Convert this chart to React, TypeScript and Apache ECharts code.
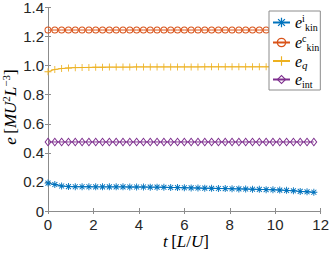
import React, { useEffect, useRef } from "react";
import * as echarts from "echarts";

// time samples t [L/U]
const times = [
  0, 0.3, 0.6, 0.9, 1.2, 1.5, 1.8, 2.1, 2.4, 2.7,
  3.0, 3.3, 3.6, 3.9, 4.2, 4.5, 4.8, 5.1, 5.4, 5.7,
  6.0, 6.3, 6.6, 6.9, 7.2, 7.5, 7.8, 8.1, 8.4, 8.7,
  9.0, 9.3, 9.6, 9.9, 10.2, 10.5, 10.8, 11.1, 11.4, 11.7,
];

const eKinI = [
  0.192, 0.182, 0.172, 0.168, 0.167, 0.167, 0.167, 0.166, 0.166, 0.166,
  0.166, 0.166, 0.165, 0.165, 0.165, 0.164, 0.164, 0.163, 0.162, 0.161,
  0.160, 0.159, 0.158, 0.157, 0.156, 0.155, 0.154, 0.153, 0.152, 0.151,
  0.150, 0.149, 0.147, 0.146, 0.144, 0.142, 0.139, 0.135, 0.132, 0.129,
];

const eKinC = [
  1.245, 1.245, 1.245, 1.245, 1.245, 1.245, 1.245, 1.245, 1.245, 1.245,
  1.245, 1.245, 1.245, 1.245, 1.245, 1.245, 1.245, 1.245, 1.245, 1.245,
  1.245, 1.245, 1.245, 1.245, 1.245, 1.245, 1.245, 1.245, 1.245, 1.245,
  1.245, 1.245, 1.245, 1.245, 1.245, 1.245, 1.245, 1.245, 1.245, 1.245,
];

const eQ = [
  0.958, 0.974, 0.980, 0.984, 0.986, 0.987, 0.988, 0.989, 0.989, 0.990,
  0.990, 0.990, 0.990, 0.991, 0.991, 0.991, 0.991, 0.991, 0.991, 0.991,
  0.991, 0.991, 0.991, 0.992, 0.992, 0.992, 0.992, 0.992, 0.992, 0.992,
  0.992, 0.992, 0.992, 0.992, 0.992, 0.992, 0.992, 0.992, 0.992, 0.992,
];

const eInt = [
  0.475, 0.475, 0.475, 0.475, 0.475, 0.475, 0.475, 0.475, 0.475, 0.475,
  0.475, 0.475, 0.475, 0.475, 0.475, 0.475, 0.475, 0.475, 0.475, 0.475,
  0.475, 0.475, 0.475, 0.475, 0.475, 0.475, 0.475, 0.475, 0.475, 0.475,
  0.475, 0.475, 0.475, 0.475, 0.475, 0.475, 0.475, 0.475, 0.475, 0.475,
];

const seriesNames = ["ekin_i", "ekin_c", "eq", "eint"];
const legendLabels: Record<string, string> = {
  ekin_i: "{e|e}{sup|i}{sub|kin}",
  ekin_c: "{e|e}{sup|c}{sub|kin}",
  eq: "{e|e}{subi|q}",
  eint: "{e|e}{sub|int}",
};

const colors = ["#0072BD", "#D95319", "#EDB120", "#7E2F8E"];

const SYM_STAR =
  "path://M8.7 0 H11.3 V20 H8.7 Z M0 8.7 H20 V11.3 H0 Z M3.82 1.98 L18.02 16.18 L16.18 18.02 L1.98 3.82 Z M16.18 1.98 L18.02 3.82 L3.82 18.02 L1.98 16.18 Z";
const SYM_CIRCLE =
  "path://M10 0 A10 10 0 1 1 10 20 A10 10 0 1 1 10 0 Z M10 2.8 A7.2 7.2 0 1 0 10 17.2 A7.2 7.2 0 1 0 10 2.8 Z";
const SYM_PLUS = "path://M8.8 0 H11.2 V20 H8.8 Z M0 8.8 H20 V11.2 H0 Z";
const SYM_DIAMOND =
  "path://M10 0 L20 10 L10 20 L0 10 Z M10 3.2 L3.6 10 L10 16.8 L16.4 10 Z";

const SERIF = "Liberation Serif";
const SANS = "Liberation Sans";

export default function App() {
  const ref = useRef<HTMLDivElement>(null);
  useEffect(() => {
    if (!ref.current) return;
    const chart = echarts.init(ref.current, null, { renderer: "svg" });
    const valueSets = [eKinI, eKinC, eQ, eInt];
    const symbols = [SYM_STAR, SYM_CIRCLE, SYM_PLUS, SYM_DIAMOND];
    const sizes: any[] = [7, 7, 7, [7, 9]];
    const axisColor = "#8c8c8c";
    const labelStyle = { fontFamily: SANS, fontSize: 15, color: "#262626" };
    const tickStyle = { show: true, inside: true, length: 3, lineStyle: { color: axisColor, width: 1 } };

    chart.setOption({
      animation: false,
      backgroundColor: "#ffffff",
      grid: { left: 48, right: 8, top: 5, bottom: 43, containLabel: false },
      xAxis: [
        {
          type: "value", min: 0, max: 12, interval: 2,
          axisLine: { show: true, lineStyle: { color: axisColor, width: 1 } },
          axisTick: tickStyle,
          splitLine: { show: false },
          axisLabel: { ...labelStyle, margin: 6 },
        },
        {
          type: "value", position: "top", min: 0, max: 12, interval: 2,
          axisLine: { show: true, lineStyle: { color: axisColor, width: 1 } },
          axisTick: tickStyle,
          splitLine: { show: false },
          axisLabel: { show: false },
        },
      ],
      yAxis: [
        {
          type: "value", min: 0, max: 1.4, interval: 0.2,
          axisLine: { show: true, lineStyle: { color: axisColor, width: 1 } },
          axisTick: tickStyle,
          splitLine: { show: false },
          axisLabel: {
            ...labelStyle, margin: 4,
            formatter: (v: number) => (v === 0 ? "0" : v.toFixed(1)),
          },
        },
        {
          type: "value", position: "right", min: 0, max: 1.4, interval: 0.2,
          axisLine: { show: true, lineStyle: { color: axisColor, width: 1 } },
          axisTick: tickStyle,
          splitLine: { show: false },
          axisLabel: { show: false },
        },
      ],
      legend: {
        orient: "vertical",
        left: 269,
        top: 11,
        padding: [2, 1, 1, 3],
        itemGap: 1,
        itemWidth: 17,
        itemHeight: 12,
        backgroundColor: "#ffffff",
        borderColor: "#8c8c8c",
        borderWidth: 1,
        borderRadius: 0,
        data: seriesNames,
        formatter: (name: string) => legendLabels[name],
        textStyle: {
          color: "#000",
          rich: {
            e: { fontFamily: SERIF, fontStyle: "italic", fontSize: 16, lineHeight: 19, color: "#000" },
            sup: { fontFamily: SERIF, fontSize: 10, lineHeight: 9, verticalAlign: "top", color: "#000" },
            sub: { fontFamily: SERIF, fontSize: 10, lineHeight: 9, verticalAlign: "bottom", color: "#000" },
            subi: { fontFamily: SERIF, fontStyle: "italic", fontSize: 11, lineHeight: 9, verticalAlign: "bottom", color: "#000" },
          },
        },
      },
      graphic: [
        {
          type: "text",
          x: 10,
          y: 107,
          rotation: Math.PI / 2,
          style: {
            text: "{i|e} {r|[}{i|MU}{s|2}{i|L}{s|−3}{r|]}",
            align: "center",
            verticalAlign: "middle",
            rich: {
              i: { fontFamily: SERIF, fontStyle: "italic", fontSize: 17, lineHeight: 20, fill: "#000" },
              r: { fontFamily: SERIF, fontSize: 17, lineHeight: 20, fill: "#000" },
              s: { fontFamily: SERIF, fontSize: 11, lineHeight: 11, verticalAlign: "top", fill: "#000" },
            },
          },
        },
        {
          type: "text",
          x: 186,
          y: 241,
          style: {
            text: "{i|t} {r|[}{i|L}{r|/}{i|U}{r|]}",
            align: "center",
            verticalAlign: "middle",
            rich: {
              i: { fontFamily: SERIF, fontStyle: "italic", fontSize: 17, lineHeight: 17, fill: "#000" },
              r: { fontFamily: SERIF, fontSize: 17, lineHeight: 17, fill: "#000" },
            },
          },
        },
      ],
      series: seriesNames.map((name, k) => ({
        name,
        type: "line",
        xAxisIndex: 0,
        yAxisIndex: 0,
        data: times.map((t, i) => [t, valueSets[k][i]]),
        symbol: symbols[k],
        symbolSize: sizes[k],
        showAllSymbol: true,
        color: colors[k],
        itemStyle: { color: colors[k], borderWidth: 0 },
        lineStyle: { color: colors[k], width: 1 },
        emphasis: { disabled: true },
      })),
    });
    return () => chart.dispose();
  }, []);
  return <div ref={ref} style={{ width: 332, height: 254, position: "absolute", left: 0, top: 0 }} />;
}
